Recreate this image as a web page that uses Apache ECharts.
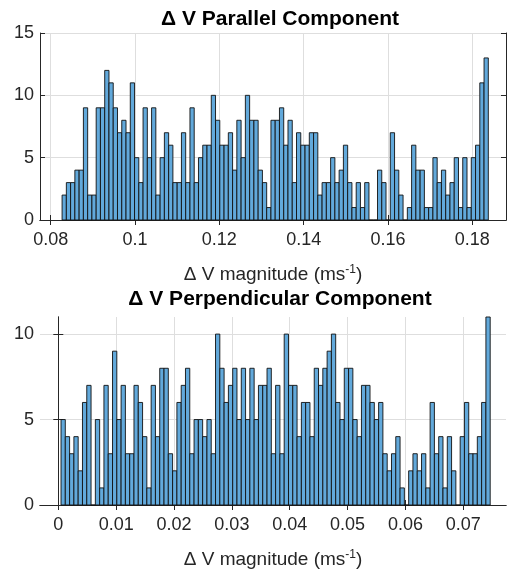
<!DOCTYPE html>
<html><head><meta charset="utf-8">
<script src="https://cdn.jsdelivr.net/npm/echarts@6/dist/echarts.min.js"></script>
<style>html,body{margin:0;padding:0;background:#fff}#c{width:507px;height:571px}</style>
</head><body><div id="c"></div>
<script>
// ---- data ----
const parCounts = [2,3,3,4,4,9,2,2,9,9, 12,11,9,7,8,7,11,5,3,9, 5,9,2,5,7,6,3,3,7,3,
  9,3,5,6,6,10,8,6,6,7, 4,8,5,10,8,8,4,3,1,8, 8,9,6,8,3,7,6,6,7,7,
  2,3,3,5,3,4,6,3,1,3, 1,3,0,0,4,3,0,7,4,2, 0,1,6,4,4,1,1,5,3,4, 2,3,5,1,5,1,5,6,11,13];
const parBinRange = [0.0827, 0.1838];
const perpCounts = [5,4,3,4,2,6,7,0,5,1, 7,3,9,5,7,3,3,7,6,4, 1,7,4,8,8,3,2,6,7,8,
  3,5,5,4,5,3,10,8,6,7, 8,5,8,5,8,5,7,7,8,3, 7,3,10,7,7,4,6,6,4,8,
  7,8,9,10,6,5,8,8,5,4, 7,7,6,5,6,3,2,3,4,1, 0,2,3,2,3,1,6,3,4,1, 4,2,0,4,6,3,3,4,6,11];
const perpBinRange = [0.00047, 0.07465];
const parXTicks = [0.08, 0.1, 0.12, 0.14, 0.16, 0.18];
const perpXTicks = [0, 0.01, 0.02, 0.03, 0.04, 0.05, 0.06, 0.07];
const parYTicks = [0, 5, 10, 15];
const perpYTicks = [0, 5, 10];
const titles = ['Δ V Parallel Component', 'Δ V Perpendicular Component'];

// ---- build ----
function bins(counts, range) {
  const w = (range[1] - range[0]) / counts.length;
  return counts.map((c, i) => [range[0] + i * w, range[0] + (i + 1) * w, c]);
}
const AX = '#262626', GRID = '#dedede', FONT = 'Liberation Sans, Arial, sans-serif';
const xName = '{a|Δ V magnitude (ms}{s|-1}{a|)}';
function xAxes(gi, min, max, ticks) {
  return [{
    type: 'value', gridIndex: gi, min, max, position: 'bottom',
    axisLine: {show: true, lineStyle: {color: AX, width: 1}},
    axisTick: {show: true, inside: true, length: 5, customValues: ticks, lineStyle: {color: AX}},
    axisLabel: {customValues: ticks, margin: 11, color: AX, fontSize: 18, fontFamily: FONT,
      formatter: v => String(+v.toFixed(4))},
    splitLine: {show: true, lineStyle: {color: GRID, width: 1}},
    name: xName, nameLocation: 'middle', nameGap: 44,
    nameTextStyle: {rich: {a: {fontSize: 19, color: AX, fontFamily: FONT},
      s: {fontSize: 12, color: AX, fontFamily: FONT, padding: [0, 0, 10, 0]}}}
  }, {
    type: 'value', gridIndex: gi, min, max, position: 'top',
    axisLine: {show: true, lineStyle: {color: AX, width: 1}},
    axisTick: {show: true, inside: true, length: 5, customValues: ticks, lineStyle: {color: AX}},
    axisLabel: {show: false}, splitLine: {show: false}
  }];
}
function yAxes(gi, min, max, ticks) {
  return [{
    type: 'value', gridIndex: gi, min, max, position: 'left',
    axisLine: {show: true, lineStyle: {color: AX, width: 1}},
    axisTick: {show: true, inside: true, length: 5, customValues: ticks, lineStyle: {color: AX}},
    axisLabel: {customValues: ticks, margin: 6, color: AX, fontSize: 18, fontFamily: FONT},
    splitLine: {show: true, lineStyle: {color: GRID, width: 1}}
  }, {
    type: 'value', gridIndex: gi, min, max, position: 'right',
    axisLine: {show: true, lineStyle: {color: AX, width: 1}},
    axisTick: {show: true, inside: true, length: 5, customValues: ticks, lineStyle: {color: AX}},
    axisLabel: {show: false}, splitLine: {show: false}
  }];
}
function histSeries(xi, yi, data) {
  return {
    type: 'custom', xAxisIndex: xi, yAxisIndex: yi, data,
    encode: {x: [0, 1], y: 2},
    renderItem: (params, api) => {
      const p0 = api.coord([api.value(0), api.value(2)]);
      const p1 = api.coord([api.value(1), 0]);
      return {type: 'rect', shape: {x: p0[0], y: p0[1], width: p1[0] - p0[0], height: p1[1] - p0[1]},
        style: {fill: '#62a9db', stroke: '#111', lineWidth: 0.9}};
    }
  };
}
const option = {
  backgroundColor: '#fff', animation: false,
  title: [
    {text: titles[0], left: 275, top: 4, textAlign: 'center',
      textStyle: {fontSize: 21, fontWeight: 'bold', color: '#000', fontFamily: FONT}},
    {text: titles[1], left: 275, top: 284, textAlign: 'center',
      textStyle: {fontSize: 21, fontWeight: 'bold', color: '#000', fontFamily: FONT}}
  ],
  grid: [
    {left: 40, top: 33, width: 466, height: 187},
    {left: 40, top: 317, width: 466, height: 188}
  ],
  xAxis: [...xAxes(0, 0.077462, 0.187993, parXTicks), ...xAxes(1, -0.003163, 0.077381, perpXTicks)],
  yAxis: [...yAxes(0, 0, 15, parYTicks), ...yAxes(1, 0, 11, perpYTicks)],
  series: [histSeries(0, 0, bins(parCounts, parBinRange)), histSeries(2, 2, bins(perpCounts, perpBinRange))]
};
echarts.init(document.getElementById('c'), null, {renderer: 'canvas'}).setOption(option);
</script></body></html>
